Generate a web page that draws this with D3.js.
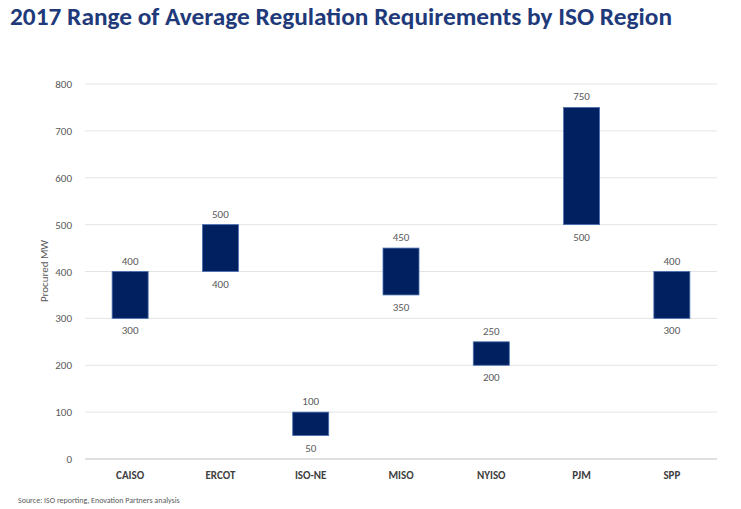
<!DOCTYPE html>
<html><head><meta charset="utf-8">
<script src="https://cdn.jsdelivr.net/npm/d3@7"></script>
<style>body{margin:0;background:#fff;font-family:Calibri,"Liberation Sans","Open Sans",sans-serif;}</style>
</head><body>
<svg id="chart" width="741" height="509"></svg>
<script>
var categories = ['CAISO','ERCOT','ISO-NE','MISO','NYISO','PJM','SPP'];
var lows = [300,400,50,350,200,500,300];
var highs = [400,500,100,450,250,750,400];
var yTicks = [0,100,200,300,400,500,600,700,800];

var svg = d3.select('#chart');
var x = d3.scaleBand().domain(categories).range([85,717]);
var y = d3.scaleLinear().domain([0,800]).range([459,84]);

svg.append('text').attr('x',10).attr('y',25).attr('fill','#1f3a7a')
	.attr('font-size',24).attr('font-weight','bold')
	.attr('textLength',662).attr('lengthAdjust','spacingAndGlyphs')
	.text('2017 Range of Average Regulation Requirements by ISO Region');

svg.selectAll('.grid').data(yTicks).enter().append('line')
	.attr('x1',85).attr('x2',717).attr('y1',d=>y(d)).attr('y2',d=>y(d))
	.attr('stroke',d=>d===0?'#bfbfbf':'#e4e4e4').attr('stroke-width',1);

svg.selectAll('.yl').data(yTicks).enter().append('text')
	.attr('x',72).attr('y',d=>y(d)+4).attr('text-anchor','end')
	.attr('font-size',11).attr('fill','#595959').text(d=>d);

svg.append('text').attr('transform','translate(48,271) rotate(-90)')
	.attr('text-anchor','middle').attr('font-size',11).attr('fill','#595959').text('Procured MW');

var bw = 36;
categories.forEach(function(c,i){
	var cx = x(c)+x.bandwidth()/2;
	svg.append('rect').attr('x',cx-bw/2).attr('y',y(highs[i]))
		.attr('width',bw).attr('height',y(lows[i])-y(highs[i]))
		.attr('fill','#002060').attr('stroke','#4a6fb0').attr('stroke-width',0.8);
	svg.append('text').attr('x',cx).attr('y',y(highs[i])-7).attr('text-anchor','middle')
		.attr('font-size',11).attr('fill','#595959').text(highs[i]);
	svg.append('text').attr('x',cx).attr('y',y(lows[i])+16).attr('text-anchor','middle')
		.attr('font-size',11).attr('fill','#595959').text(lows[i]);
	svg.append('text').attr('x',cx).attr('y',479).attr('text-anchor','middle')
		.attr('font-size',11).attr('font-weight','bold').attr('fill','#404040').text(c);
});

svg.append('text').attr('x',18).attr('y',503).attr('font-size',8).attr('fill','#595959')
	.text('Source: ISO reporting, Enovation Partners analysis');
</script>
</body></html>
